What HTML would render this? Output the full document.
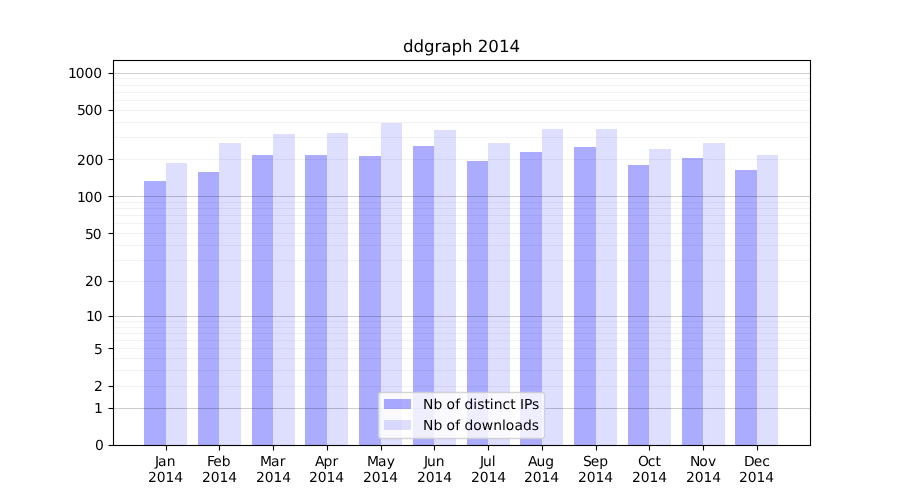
<!DOCTYPE html>
<html lang="en">
<head>
<meta charset="utf-8">
<title>ddgraph 2014</title>
<style>
html,body{margin:0;padding:0;background:#fff;overflow:hidden}
body{width:900px;height:500px}
svg{display:block;will-change:transform}
text{font-family:"DejaVu Sans","Liberation Sans",sans-serif;font-size:13.889px;fill:#000;text-rendering:geometricPrecision}
.t{font-size:16.667px}
</style>
</head>
<body>
<svg width="900" height="500" viewBox="0 0 900 500">
<rect width="900" height="500" fill="#fff"/>
<g fill="#00f" shape-rendering="crispEdges">
<rect x="144" y="181" width="22" height="264" fill-opacity="0.33"/>
<rect x="166" y="163" width="21" height="282" fill-opacity="0.13"/>
<rect x="198" y="172" width="21" height="273" fill-opacity="0.33"/>
<rect x="219" y="143" width="22" height="302" fill-opacity="0.13"/>
<rect x="252" y="155" width="21" height="290" fill-opacity="0.33"/>
<rect x="273" y="134" width="22" height="311" fill-opacity="0.13"/>
<rect x="305" y="155" width="22" height="290" fill-opacity="0.33"/>
<rect x="327" y="133" width="21" height="312" fill-opacity="0.13"/>
<rect x="359" y="156" width="22" height="289" fill-opacity="0.33"/>
<rect x="381" y="123" width="21" height="322" fill-opacity="0.13"/>
<rect x="413" y="146" width="21" height="299" fill-opacity="0.33"/>
<rect x="434" y="130" width="22" height="315" fill-opacity="0.13"/>
<rect x="467" y="161" width="21" height="284" fill-opacity="0.33"/>
<rect x="488" y="143" width="22" height="302" fill-opacity="0.13"/>
<rect x="520" y="152" width="22" height="293" fill-opacity="0.33"/>
<rect x="542" y="129" width="21" height="316" fill-opacity="0.13"/>
<rect x="574" y="147" width="22" height="298" fill-opacity="0.33"/>
<rect x="596" y="129" width="21" height="316" fill-opacity="0.13"/>
<rect x="628" y="165" width="21" height="280" fill-opacity="0.33"/>
<rect x="649" y="149" width="22" height="296" fill-opacity="0.13"/>
<rect x="682" y="158" width="21" height="287" fill-opacity="0.33"/>
<rect x="703" y="143" width="22" height="302" fill-opacity="0.13"/>
<rect x="735" y="170" width="22" height="275" fill-opacity="0.33"/>
<rect x="757" y="155" width="21" height="290" fill-opacity="0.13"/>
</g>
<g stroke="#000" stroke-width="1.111" fill="none">
<line x1="113" x2="810.5" y1="408.5" y2="408.5" stroke-opacity="0.2"/>
<line x1="113" x2="810.5" y1="386.5" y2="386.5" stroke-opacity="0.05"/>
<line x1="113" x2="810.5" y1="370.5" y2="370.5" stroke-opacity="0.05"/>
<line x1="113" x2="810.5" y1="358.5" y2="358.5" stroke-opacity="0.05"/>
<line x1="113" x2="810.5" y1="348.5" y2="348.5" stroke-opacity="0.05"/>
<line x1="113" x2="810.5" y1="340.5" y2="340.5" stroke-opacity="0.05"/>
<line x1="113" x2="810.5" y1="333.5" y2="333.5" stroke-opacity="0.05"/>
<line x1="113" x2="810.5" y1="327.5" y2="327.5" stroke-opacity="0.05"/>
<line x1="113" x2="810.5" y1="321.5" y2="321.5" stroke-opacity="0.05"/>
<line x1="113" x2="810.5" y1="316.5" y2="316.5" stroke-opacity="0.2"/>
<line x1="113" x2="810.5" y1="281.5" y2="281.5" stroke-opacity="0.05"/>
<line x1="113" x2="810.5" y1="260.5" y2="260.5" stroke-opacity="0.05"/>
<line x1="113" x2="810.5" y1="245.5" y2="245.5" stroke-opacity="0.05"/>
<line x1="113" x2="810.5" y1="233.5" y2="233.5" stroke-opacity="0.05"/>
<line x1="113" x2="810.5" y1="223.5" y2="223.5" stroke-opacity="0.05"/>
<line x1="113" x2="810.5" y1="215.5" y2="215.5" stroke-opacity="0.05"/>
<line x1="113" x2="810.5" y1="208.5" y2="208.5" stroke-opacity="0.05"/>
<line x1="113" x2="810.5" y1="202.5" y2="202.5" stroke-opacity="0.05"/>
<line x1="113" x2="810.5" y1="196.5" y2="196.5" stroke-opacity="0.2"/>
<line x1="113" x2="810.5" y1="159.5" y2="159.5" stroke-opacity="0.05"/>
<line x1="113" x2="810.5" y1="137.5" y2="137.5" stroke-opacity="0.05"/>
<line x1="113" x2="810.5" y1="122.5" y2="122.5" stroke-opacity="0.05"/>
<line x1="113" x2="810.5" y1="110.5" y2="110.5" stroke-opacity="0.05"/>
<line x1="113" x2="810.5" y1="100.5" y2="100.5" stroke-opacity="0.05"/>
<line x1="113" x2="810.5" y1="92.5" y2="92.5" stroke-opacity="0.05"/>
<line x1="113" x2="810.5" y1="85.5" y2="85.5" stroke-opacity="0.05"/>
<line x1="113" x2="810.5" y1="78.5" y2="78.5" stroke-opacity="0.05"/>
<line x1="113" x2="810.5" y1="73.5" y2="73.5" stroke-opacity="0.2"/>
</g>
<g stroke="#000" stroke-width="1.111" fill="none">
<line x1="108.5" x2="113.5" y1="445.5" y2="445.5"/>
<line x1="108.5" x2="113.5" y1="408.5" y2="408.5"/>
<line x1="108.5" x2="113.5" y1="386.5" y2="386.5"/>
<line x1="108.5" x2="113.5" y1="348.5" y2="348.5"/>
<line x1="108.5" x2="113.5" y1="316.5" y2="316.5"/>
<line x1="108.5" x2="113.5" y1="281.5" y2="281.5"/>
<line x1="108.5" x2="113.5" y1="233.5" y2="233.5"/>
<line x1="108.5" x2="113.5" y1="196.5" y2="196.5"/>
<line x1="108.5" x2="113.5" y1="159.5" y2="159.5"/>
<line x1="108.5" x2="113.5" y1="110.5" y2="110.5"/>
<line x1="108.5" x2="113.5" y1="73.5" y2="73.5"/>
<line x1="166.5" x2="166.5" y1="445.5" y2="450.5"/>
<line x1="219.5" x2="219.5" y1="445.5" y2="450.5"/>
<line x1="273.5" x2="273.5" y1="445.5" y2="450.5"/>
<line x1="327.5" x2="327.5" y1="445.5" y2="450.5"/>
<line x1="381.5" x2="381.5" y1="445.5" y2="450.5"/>
<line x1="434.5" x2="434.5" y1="445.5" y2="450.5"/>
<line x1="488.5" x2="488.5" y1="445.5" y2="450.5"/>
<line x1="542.5" x2="542.5" y1="445.5" y2="450.5"/>
<line x1="596.5" x2="596.5" y1="445.5" y2="450.5"/>
<line x1="649.5" x2="649.5" y1="445.5" y2="450.5"/>
<line x1="703.5" x2="703.5" y1="445.5" y2="450.5"/>
<line x1="757.5" x2="757.5" y1="445.5" y2="450.5"/>
<rect x="113.5" y="60.5" width="697" height="385"/>
</g>
<text x="94.95" y="450">0</text>
<text x="93.95" y="413">1</text>
<text x="93.95" y="391">2</text>
<text x="93.95" y="354">5</text>
<text x="86 93.82" y="321">10</text>
<text x="85 93.82" y="286">20</text>
<text x="85 92.82" y="239">50</text>
<text x="76.93 84.74 93.57" y="202">100</text>
<text x="76.93 85.74 94.57" y="165">200</text>
<text x="76.93 84.74 93.57" y="115">500</text>
<text x="67.97 75.78 84.61 93.19" y="78">1000</text>
<text x="155 158.08 166.85" y="466">Jan</text>
<text x="147.91 156.73 165.55 174.13" y="482">2014</text>
<text x="206.9 213.37 221.65" y="466">Feb</text>
<text x="201.9 210.72 219.54 228.37" y="482">2014</text>
<text x="259.96 270.93 279.68" y="466">Mar</text>
<text x="255.89 264.71 273.53 282.36" y="482">2014</text>
<text x="314.9 323.39 332.45" y="466">Apr</text>
<text x="309.12 317.69 326.51 335.34" y="482">2014</text>
<text x="366.93 377.89 386.64" y="466">May</text>
<text x="363.11 371.68 380.5 389.33" y="482">2014</text>
<text x="423.92 426.99 435.79" y="466">Jun</text>
<text x="416.97 425.79 434.61 443.19" y="482">2014</text>
<text x="480 483.07 491.87" y="466">Jul</text>
<text x="470.96 479.78 488.6 497.18" y="482">2014</text>
<text x="527.93 536.42 545.21" y="466">Aug</text>
<text x="523.94 532.76 541.58 550.16" y="482">2014</text>
<text x="582.89 590.69 599.24" y="466">Sep</text>
<text x="577.93 586.75 595.57 604.15" y="482">2014</text>
<text x="637.95 647.86 655.5" y="466">Oct</text>
<text x="631.92 640.74 649.56 658.14" y="482">2014</text>
<text x="689.89 699.27 708" y="466">Nov</text>
<text x="685.9 694.72 703.54 712.37" y="482">2014</text>
<text x="744 753.67 762.22" y="466">Dec</text>
<text x="738.89 747.71 756.53 765.36" y="482">2014</text>
<text class="t" x="402.95 413.52 424.09 434.41 441.27 451.47 462.05 472.59 477.64 488.23 499.09 509.44" y="52">ddgraph 2014</text>
<path d="M381.28 438.5L541.72 438.5Q544.5 438.5 544.5 435.72L544.5 395.28Q544.5 392.5 541.72 392.5L381.28 392.5Q378.5 392.5 378.5 395.28L378.5 435.72Q378.5 438.5 381.28 438.5Z" fill="#fff" fill-opacity="0.8" stroke="#ccc" stroke-opacity="0.8" stroke-width="1.389"/>
<g fill="#00f" shape-rendering="crispEdges"><rect x="384" y="399" width="27" height="10" fill-opacity="0.33"/><rect x="384" y="420" width="27" height="10" fill-opacity="0.13"/></g>
<text x="423.07 433.44 442.24 446.41 455.15 460.04 464.44 473.26 477.35 484.59 489.77 493.63 502.43 510.3 515.49 519.9 523.99 532.12" y="409">Nb of distinct IPs</text>
<text x="423.07 433.44 442.24 446.41 455.15 460.04 464.44 473.26 481.74 493.34 501.88 505.74 514.48 522.98 531.79" y="430">Nb of downloads</text>
</svg>
</body>
</html>
